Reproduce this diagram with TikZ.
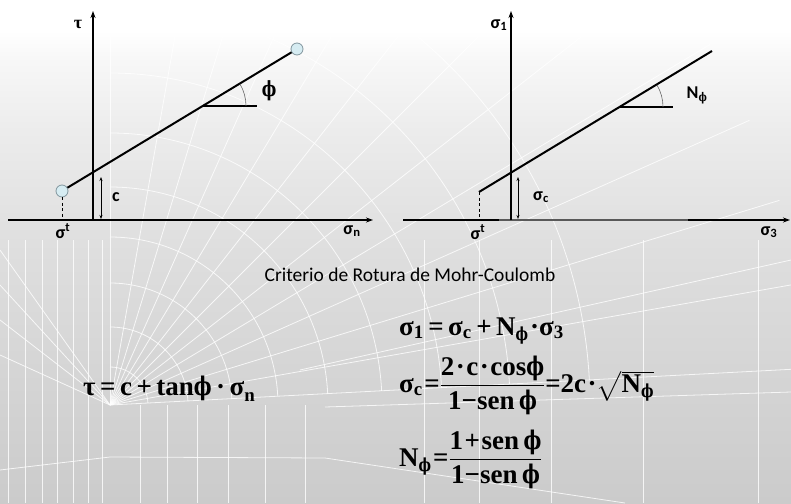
\documentclass[tikz,border=0pt]{standalone}
\usepackage{amsmath}
\usepackage{graphicx}
\usepackage{fontspec}
\setmainfont{Liberation Serif}
\newfontfamily\carl{Carlito}
\newfontfamily\phfont{DejaVu Serif}
\usetikzlibrary{arrows.meta}
\newcommand{\tx}[1]{\text{#1}}
\newcommand{\ph}{\scalebox{0.7}[0.95]{\phfont\bfseries ϕ}}
\newcommand{\ks}{\kern1.5pt}
\definecolor{bgbot}{RGB}{203,203,203}
\definecolor{bgmid}{RGB}{222,222,222}
\definecolor{bgup}{RGB}{236,236,236}
\definecolor{ptfill}{RGB}{214,236,242}
\definecolor{ptdraw}{RGB}{130,150,158}
\pgfdeclareverticalshading{bgshade}{100bp}{color(0bp)=(bgbot); color(25bp)=(bgbot); color(50bp)=(bgmid); color(62bp)=(bgup); color(69bp)=(white!97!black); color(72bp)=(white); color(100bp)=(white)}
\tikzset{
  axis/.style={line width=1.1pt, -{Stealth[length=7pt,width=5pt]}},
  failure/.style={line width=2pt},
  angleline/.style={line width=2pt},
  arcline/.style={line width=0.6pt, black!60},
  dimline/.style={line width=0.7pt, {Stealth[length=4pt,width=3pt]}-{Stealth[length=4pt,width=3pt]}},
  dashline/.style={line width=0.8pt, dash pattern=on 3pt off 2.5pt},
  endpt/.style={circle, draw=ptdraw, line width=0.8pt, inner sep=0pt, minimum size=12pt, fill=ptfill},
  lab/.style={font=\carl\bfseries\fontsize{18}{21}\selectfont, inner sep=0pt},
  eq/.style={font=\bfseries\fontsize{27}{31}\selectfont, inner sep=0pt, anchor=base west},
  mesh/.style={white, line width=0.8pt, opacity=0.8},
}
\begin{document}
\begin{tikzpicture}[x=1pt,y=-1pt]
\useasboundingbox (0,0) rectangle (791,503);
\shade[shading=bgshade] (0,0) rectangle (791,503);
% background mesh
\begin{scope}
\clip (0,0) rectangle (791,503);
\coordinate (F) at (110,405);
\foreach \a in {3,10,17,24,31,38,45,52,59,66,73,80,90}
  \draw[mesh] (F) -- ++(-\a:700);
\foreach \r in {38,78,122,168,218,272,332,400,480}
  \draw[mesh] ([shift={(-3:\r)}]F) arc[start angle=-3,end angle=-90,radius=\r];
\foreach \xx in {8,25,42,57,73,88,102}
  \draw[mesh] (\xx,240) -- (\xx,503);
\foreach \xx in {140,167,197,228,265,305}
  \draw[mesh] (\xx,405) -- (\xx,503);
\foreach \yy in {250,285,320,355}
  \draw[mesh] (0,\yy) -- (F);
\draw[mesh] (110,457) -- (325,458) -- (625,503);
\draw[mesh] (0,470) -- (110,457);
\draw[mesh] (325,407) -- (791,392);
\draw[mesh] (300,370) -- (791,260);
\foreach \xx in {424,479,551,643,758}
  \draw[mesh] (\xx,240) -- (\xx,503);
\end{scope}

% ---------- left diagram ----------
\coordinate (X1s) at (8,220);
\coordinate (X1e) at (373,220);
\coordinate (O1) at (93,220);
\coordinate (Y1e) at (93,11);
\draw[axis] (X1s) -- (X1e);
\draw[axis] (O1) -- (Y1e);
\coordinate (P1c) at (62,191);
\coordinate (P2c) at (297,49);
\draw[failure] (P1c) -- (P2c);
\node[endpt] (P1) at (P1c) {};
\node[endpt] (P2) at (P2c) {};
\coordinate (T1) at (62,220);
\draw[dashline] (P1.south) -- (T1);
\coordinate (C1a) at (101,177);
\coordinate (C1b) at (101,219);
\draw[dimline] (C1a) -- (C1b);
\coordinate (V1) at (203,106);
\coordinate (H1) at (257,106);
\draw[angleline] (V1) -- (H1);
\draw[arcline] ([shift={(43,0)}]V1) arc[start angle=0,end angle=-31,radius=43];
\node[font=\bfseries\fontsize{18}{21}\selectfont, inner sep=0pt] (tau) at (78,24) {τ};
\node[font=\fontsize{22}{26}\selectfont, inner sep=0pt] (phi1) at (269,91) {\ph};
\node[lab] (c1) at (116,197) {c};
\node[lab] (st1) at (63,231) {σ\textsuperscript{t}};
\node[lab] (sn) at (352,231) {σ\textsubscript{n}};

% ---------- right diagram ----------
\coordinate (X2s) at (403,220);
\coordinate (X2e) at (790,220);
\coordinate (O2) at (511,220);
\coordinate (Y2e) at (511,11);
\draw[axis] (X2s) -- (X2e);
\draw[line width=1.5pt, black!65] (499,220) -- (688,220);
\draw[axis] (O2) -- (Y2e);
\coordinate (Q1) at (479,192);
\coordinate (Q2) at (712,51);
\draw[failure] (Q1) -- (Q2);
\coordinate (T2) at (479,220);
\draw[dashline] (Q1) -- (T2);
\coordinate (C2a) at (518,177);
\coordinate (C2b) at (518,219);
\draw[dimline] (C2a) -- (C2b);
\coordinate (V2) at (620,107);
\coordinate (H2) at (673,107);
\draw[angleline] (V2) -- (H2);
\draw[arcline] ([shift={(43,0)}]V2) arc[start angle=0,end angle=-31,radius=43];
\node[lab] (s1) at (499,25) {σ\textsubscript{1}};
\node[lab] (Nphi) at (697,95) {N\textsubscript{\ph}};
\node[lab] (sc) at (541,197) {σ\textsubscript{c}};
\node[lab] (st2) at (478,232) {σ\textsuperscript{t}};
\node[lab] (s3) at (769,232) {σ\textsubscript{3}};

% ---------- title and equations ----------
\node[font=\carl\fontsize{19.5}{23}\selectfont, inner sep=0pt] (title) at (410,275) {Criterio de Rotura de Mohr-Coulomb};
\node[eq] (e0) at (83,395) {$\tx{τ\,=\,c\,+\,tan\ph\,·\,σ}_{\tx{n}}$};
\node[eq] (e1) at (399,335) {$\tx{σ}_{\tx{1}}\tx{\,=\,σ}_{\tx{c}}\tx{\,+\,N}_{\tx{\ph}}\tx{\ks·σ}_{\tx{3}}$};
\node[eq] (e2) at (399,392) {$\tx{σ}_{\tx{c}}\tx{\ks=}\dfrac{\tx{2\ks·\ks c\ks·\ks cos\ph}}{\tx{1−sen\,\ph}}\tx{=2c\ks·}\sqrt{\tx{N}_{\tx{\ph}}}$};
\node[eq] (e3) at (399,466) {$\tx{N}_{\tx{\ph}}\tx{\ks=}\dfrac{\tx{1\ks+\ks sen\,\ph}}{\tx{1−sen\,\ph}}$};
\end{tikzpicture}
\end{document}
